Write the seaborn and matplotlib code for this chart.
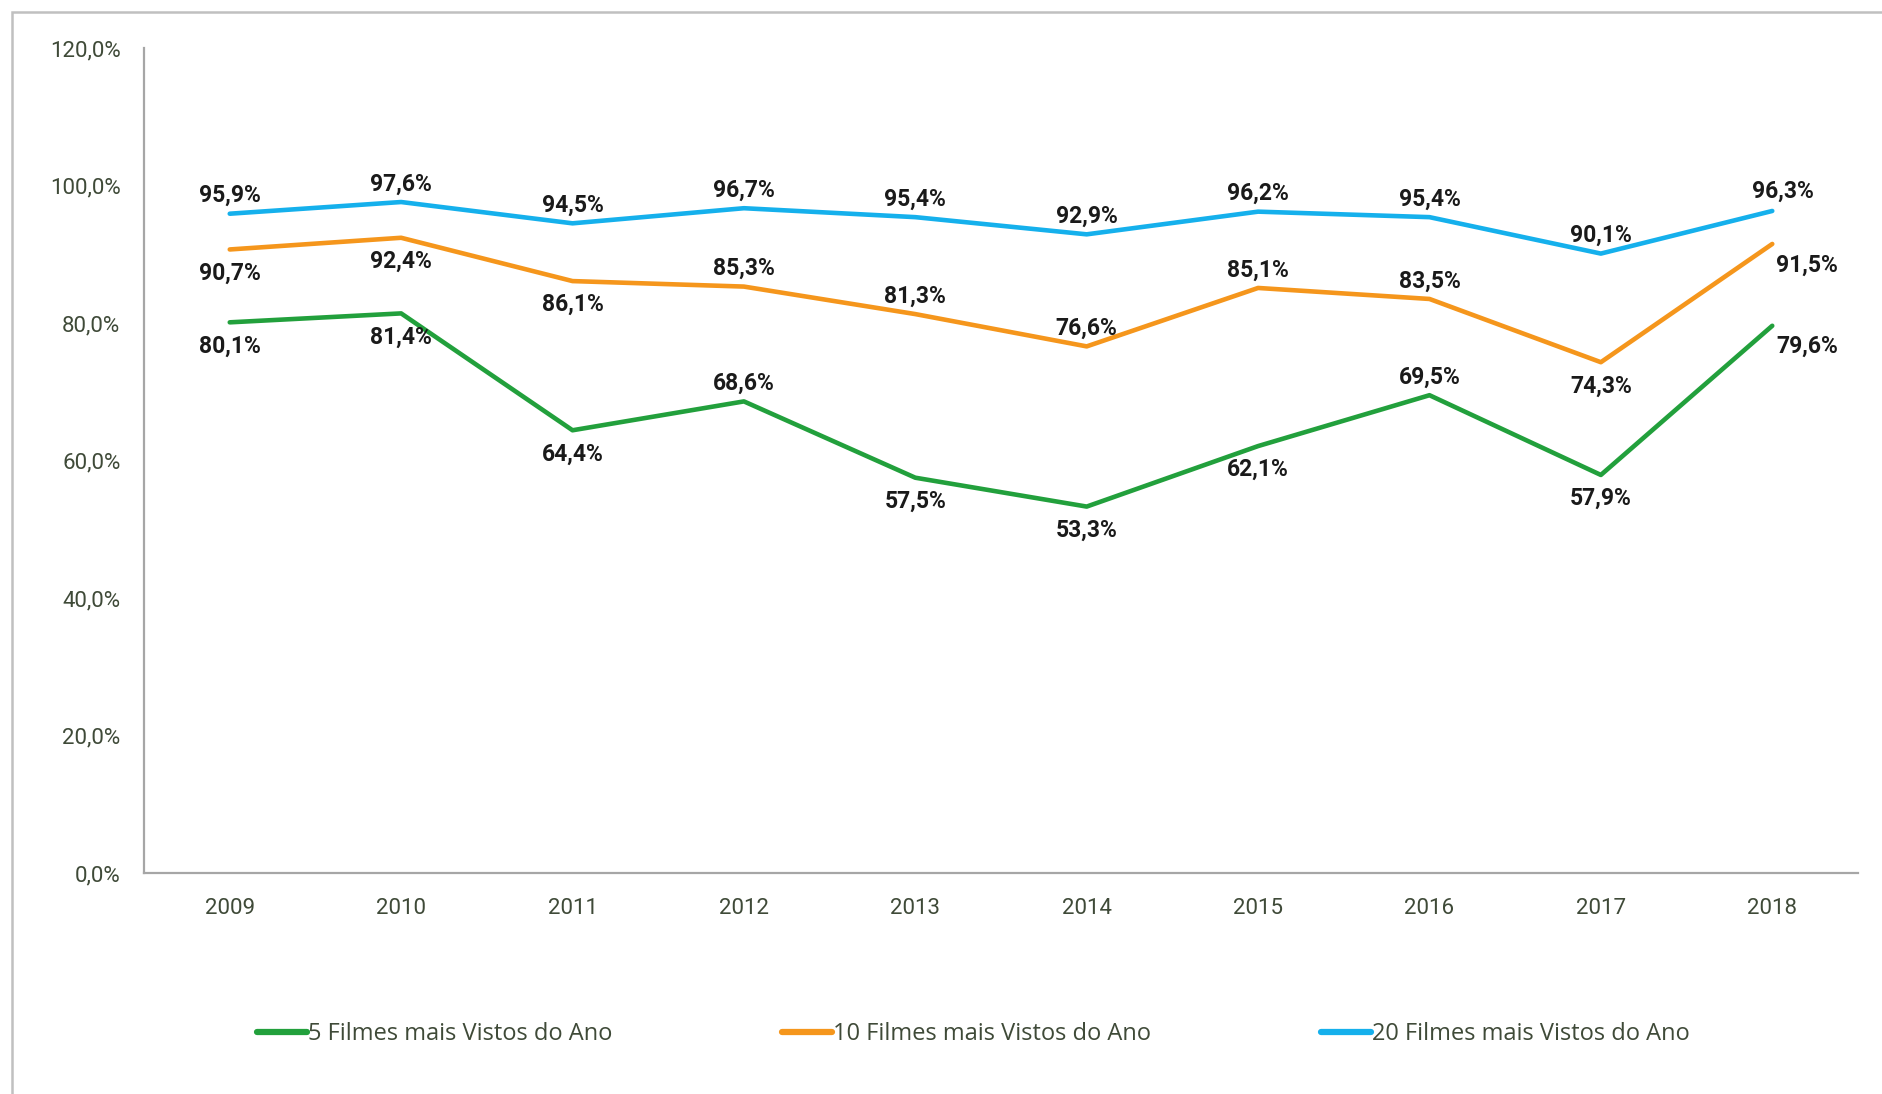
import pandas as pd
import matplotlib.pyplot as plt
import matplotlib.patches as mpatches
import seaborn as sns

# data (share of tickets, %)
years = ['2009', '2010', '2011', '2012', '2013', '2014', '2015', '2016', '2017', '2018']
top5 = [80.1, 81.4, 64.4, 68.6, 57.5, 53.3, 62.1, 69.5, 57.9, 79.6]
top10 = [90.7, 92.4, 86.1, 85.3, 81.3, 76.6, 85.1, 83.5, 74.3, 91.5]
top20 = [95.9, 97.6, 94.5, 96.7, 95.4, 92.9, 96.2, 95.4, 90.1, 96.3]
series_names = ['5 Filmes mais Vistos do Ano',
                '10 Filmes mais Vistos do Ano',
                '20 Filmes mais Vistos do Ano']
y_ticks = [0, 20, 40, 60, 80, 100, 120]

# where each data label sits relative to its point: a=above, b=below, r=right
label_pos = {
    series_names[0]: ['b', 'b', 'b', 'a', 'b', 'b', 'b', 'a', 'b', 'r'],
    series_names[1]: ['b', 'b', 'b', 'a', 'a', 'a', 'a', 'a', 'b', 'r'],
    series_names[2]: ['a', 'a', 'a', 'a', 'a', 'a', 'a', 'a', 'a', 'ar'],
}
offsets = {'a': (0, 13), 'b': (0, -17), 'r': (25, -15), 'ar': (8, 14)}

colors = ['#22a03c', '#f5961c', '#15b0ec']
text_col = '#3f4a38'

def fmt(v):
    return f'{v:.1f}'.replace('.', ',') + '%'

df = pd.DataFrame({
    'Ano': years * 3,
    'Valor': top5 + top10 + top20,
    'Serie': [series_names[0]] * 10 + [series_names[1]] * 10 + [series_names[2]] * 10,
})

sns.set_style('white')
plt.rcParams['font.family'] = ['Roboto', 'DejaVu Sans']

fig = plt.figure(figsize=(18.83, 10.94), dpi=100)
ax = fig.add_axes([0.0765, 0.202, 0.9102, 0.7541])

sns.lineplot(data=df, x='Ano', y='Valor', hue='Serie', palette=colors,
             linewidth=3.3, ax=ax, legend=False, sort=False)

for name, vals in zip(series_names, [top5, top10, top20]):
    for i, v in enumerate(vals):
        dx, dy = offsets[label_pos[name][i]]
        ax.annotate(fmt(v), (i, v), xytext=(dx, dy), textcoords='offset points',
                    ha='center', va='center', fontsize=16.5, fontweight='bold',
                    color='#1a1a1a')

ax.set_xlim(-0.5, 9.5)
ax.set_ylim(0, 120)
ax.set_yticks(y_ticks)
ax.set_yticklabels([fmt(t) for t in y_ticks])
ax.set_xlabel('')
ax.set_ylabel('')
ax.tick_params(axis='both', length=0, labelsize=16, labelcolor=text_col)
ax.tick_params(axis='y', pad=17)
ax.tick_params(axis='x', pad=18)
for s in ['top', 'right']:
    ax.spines[s].set_visible(False)
for s in ['left', 'bottom']:
    ax.spines[s].set_color('#a6a6a6')
    ax.spines[s].set_linewidth(1.6)

handles = [plt.Line2D([], [], color=c, linewidth=4.5, solid_capstyle='round') for c in colors]
leg = fig.legend(handles, series_names, loc='center', bbox_to_anchor=(0.517, 0.055),
                 ncol=3, frameon=False, handlelength=2.1, handletextpad=0.05,
                 columnspacing=7.2, prop={'family': ['Open Sans', 'DejaVu Sans'], 'size': 17})
for t in leg.get_texts():
    t.set_color(text_col)

# thin outer frame like the original chart area
fig.patches.append(mpatches.Rectangle((12 / 1883, -0.5), 2.0, 1.5 - 12 / 1094,
                                      transform=fig.transFigure, fill=False,
                                      edgecolor='#c0c0c0', linewidth=1.8))

fig.savefig('out.png', dpi=100)
